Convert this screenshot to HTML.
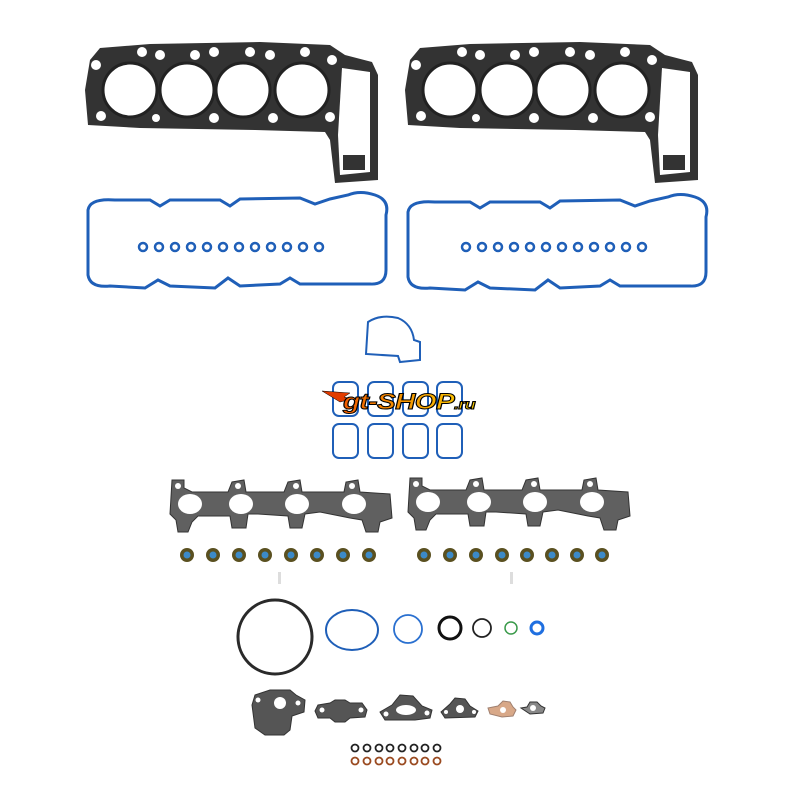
<!DOCTYPE html>
<html><head><meta charset="utf-8"><style>
html,body{margin:0;padding:0;background:#fff;width:800px;height:800px;overflow:hidden}
</style></head><body>
<svg width="800" height="800" viewBox="0 0 800 800" xmlns="http://www.w3.org/2000/svg">
<defs>
<linearGradient id="lg" x1="0" y1="0" x2="1" y2="0"><stop offset="0" stop-color="#f05a00"/><stop offset="0.5" stop-color="#f59a00"/><stop offset="1" stop-color="#ffd000"/></linearGradient>
<g id="head">
  <path d="M90,60 L100,48 L150,44 L260,42 L330,45 L345,55 L372,62 L378,75 L378,180 L335,183 L330,140 L325,132 L255,130 L140,128 L88,125 L85,90 Z" fill="#333"/>
  <path d="M342,68 L370,72 L370,172 L340,175 L338,135 Z" fill="#fff"/>
  <rect x="343" y="155" width="22" height="15" fill="#333"/>
  <g fill="#fff" stroke="#222" stroke-width="3">
    <circle cx="130" cy="90" r="27"/><circle cx="187" cy="90" r="27"/>
    <circle cx="243" cy="90" r="27"/><circle cx="302" cy="90" r="27"/>
  </g>
  <g fill="#fff">
    <circle cx="96" cy="65" r="5"/><circle cx="101" cy="116" r="5"/><circle cx="142" cy="52" r="5"/>
    <circle cx="160" cy="55" r="5"/><circle cx="195" cy="55" r="5"/><circle cx="214" cy="52" r="5"/>
    <circle cx="250" cy="52" r="5"/><circle cx="270" cy="55" r="5"/><circle cx="305" cy="52" r="5"/>
    <circle cx="214" cy="118" r="5"/><circle cx="273" cy="118" r="5"/><circle cx="330" cy="117" r="5"/>
    <circle cx="156" cy="118" r="4"/><circle cx="332" cy="60" r="5"/>
  </g>
</g>
<g id="cover" fill="none" stroke="#1f5fb8" stroke-width="3">
  <path d="M88,210 Q90,198 115,200 L150,200 L160,206 L170,200 L220,200 L230,206 L240,199 L300,198 L315,204 L330,199 L348,195 Q360,190 375,195 Q390,200 386,215 L386,270 Q386,285 370,284 L300,284 L290,278 L280,284 L240,286 L228,278 L215,288 L170,286 L158,280 L145,288 L110,286 Q90,288 88,275 Z"/>
</g>
<g id="exh" fill="#606060" stroke="#333" stroke-width="1">
  <path d="M172,480 L184,480 L184,488 L192,492 L228,492 L232,482 L244,480 L246,492 L284,492 L288,482 L300,480 L302,492 L344,492 L346,482 L358,480 L360,492 L390,494 L392,518 L380,522 L378,532 L366,532 L362,520 L350,518 L320,512 L305,514 L302,528 L290,528 L288,516 L258,514 L248,514 L246,528 L232,528 L230,516 L198,516 L192,522 L188,532 L178,532 L176,520 L170,514 Z"/>
  <g fill="#fff" stroke="none">
    <ellipse cx="190" cy="504" rx="12" ry="10"/><ellipse cx="241" cy="504" rx="12" ry="10"/>
    <ellipse cx="297" cy="504" rx="12" ry="10"/><ellipse cx="354" cy="504" rx="12" ry="10"/>
    <circle cx="178" cy="486" r="3"/><circle cx="238" cy="486" r="3"/><circle cx="296" cy="486" r="3"/><circle cx="352" cy="486" r="3"/>
  </g>
</g>
<g id="seal"><circle r="7" fill="#5a5020"/><circle r="3.5" fill="#3c8ac8"/></g>
</defs>

<use href="#head"/>
<use href="#head" transform="translate(320,0)"/>

<use href="#cover"/>
<use href="#cover" transform="translate(320,2)"/>

<g fill="none" stroke="#1f5fb8" stroke-width="2.5">
  <g id="rl">
    <circle cx="143" cy="247" r="4"/><circle cx="159" cy="247" r="4"/><circle cx="175" cy="247" r="4"/>
    <circle cx="191" cy="247" r="4"/><circle cx="207" cy="247" r="4"/><circle cx="223" cy="247" r="4"/>
    <circle cx="239" cy="247" r="4"/><circle cx="255" cy="247" r="4"/><circle cx="271" cy="247" r="4"/>
    <circle cx="287" cy="247" r="4"/><circle cx="303" cy="247" r="4"/><circle cx="319" cy="247" r="4"/>
  </g>
  <use href="#rl" transform="translate(323,0)"/>
  <path d="M368,322 Q380,314 398,318 Q412,324 414,340 L420,342 L420,360 L400,362 L398,356 L366,354 Z" stroke-width="2"/>
  <g stroke-width="2">
    <rect x="333" y="382" width="25" height="34" rx="6"/><rect x="368" y="382" width="25" height="34" rx="6"/>
    <rect x="403" y="382" width="25" height="34" rx="6"/><rect x="437" y="382" width="25" height="34" rx="6"/>
    <rect x="333" y="424" width="25" height="34" rx="6"/><rect x="368" y="424" width="25" height="34" rx="6"/>
    <rect x="403" y="424" width="25" height="34" rx="6"/><rect x="437" y="424" width="25" height="34" rx="6"/>
  </g>
</g>

<path d="M322,391 L350,393 L344,397 L352,399 L340,402 Z" fill="#e23c00" stroke="#000" stroke-width="0.5"/>
<text x="343" y="409" font-family="Liberation Sans, sans-serif" font-weight="bold" font-style="italic" font-size="22" fill="url(#lg)" stroke="#000" stroke-width="1" letter-spacing="-0.5" textLength="132" lengthAdjust="spacingAndGlyphs">gt-SHOP<tspan font-size="14">.ru</tspan></text>

<use href="#exh"/>
<use href="#exh" transform="translate(238,-2)"/>

<g>
  <use href="#seal" x="187" y="555"/><use href="#seal" x="213" y="555"/><use href="#seal" x="239" y="555"/><use href="#seal" x="265" y="555"/>
  <use href="#seal" x="291" y="555"/><use href="#seal" x="317" y="555"/><use href="#seal" x="343" y="555"/><use href="#seal" x="369" y="555"/>
  <use href="#seal" x="424" y="555"/><use href="#seal" x="450" y="555"/><use href="#seal" x="476" y="555"/><use href="#seal" x="502" y="555"/>
  <use href="#seal" x="527" y="555"/><use href="#seal" x="552" y="555"/><use href="#seal" x="577" y="555"/><use href="#seal" x="602" y="555"/>
</g>
<rect x="278" y="572" width="3" height="12" fill="#ddd"/>
<rect x="510" y="572" width="3" height="12" fill="#ddd"/>

<g fill="none">
  <circle cx="275" cy="637" r="37" stroke="#2a2a2a" stroke-width="3"/>
  <ellipse cx="352" cy="630" rx="26" ry="20" stroke="#1f5fb8" stroke-width="2"/>
  <circle cx="408" cy="629" r="14" stroke="#2a70d0" stroke-width="1.8"/>
  <circle cx="450" cy="628" r="11" stroke="#111" stroke-width="3"/>
  <circle cx="482" cy="628" r="9" stroke="#222" stroke-width="1.8"/>
  <circle cx="511" cy="628" r="6" stroke="#3a9a4a" stroke-width="1.5"/>
  <circle cx="537" cy="628" r="6" stroke="#1f6fe0" stroke-width="3"/>
</g>

<g fill="#555" stroke="#333" stroke-width="1">
  <path d="M255,695 L270,690 L290,690 L296,695 L305,700 L304,712 L292,716 L290,730 L284,735 L265,735 L255,728 L252,705 Z"/>
  <path d="M318,705 L330,703 L335,700 L345,700 L350,703 L362,703 L367,710 L365,717 L350,718 L345,722 L335,722 L330,718 L318,718 L315,711 Z"/>
  <path d="M380,712 L392,705 L400,695 L413,696 L422,706 L432,710 L430,718 L415,720 L400,720 L385,720 Z"/>
  <path d="M441,712 L450,704 L455,698 L465,699 L470,706 L478,711 L475,717 L445,718 Z"/>
  <path d="M488,708 L498,706 L503,701 L510,702 L513,707 L516,710 L513,716 L502,717 L490,714 Z" fill="#d8a888" stroke="#a08070"/>
  <path d="M521,708 L527,707 L530,702 L537,702 L541,706 L545,708 L543,713 L530,714 Z" fill="#888"/>
  <g fill="#fff" stroke="none">
    <circle cx="280" cy="703" r="6"/><circle cx="258" cy="700" r="2.5"/><circle cx="298" cy="703" r="2.5"/>
    <circle cx="322" cy="710" r="2.5"/><circle cx="361" cy="710" r="2.5"/>
    <ellipse cx="406" cy="710" rx="10" ry="5"/><circle cx="386" cy="714" r="2.5"/><circle cx="427" cy="713" r="2.5"/>
    <circle cx="460" cy="709" r="4"/><circle cx="446" cy="712" r="2"/><circle cx="474" cy="712" r="2"/>
    <circle cx="503" cy="710" r="3"/><circle cx="533" cy="708" r="3"/>
  </g>
</g>

<g fill="none" stroke-width="1.8">
  <g stroke="#222">
    <circle cx="355" cy="748" r="3.5"/><circle cx="367" cy="748" r="3.5"/><circle cx="379" cy="748" r="3.5"/><circle cx="390" cy="748" r="3.5"/>
    <circle cx="402" cy="748" r="3.5"/><circle cx="414" cy="748" r="3.5"/><circle cx="425" cy="748" r="3.5"/><circle cx="437" cy="748" r="3.5"/>
  </g>
  <g stroke="#9a4a20">
    <circle cx="355" cy="761" r="3.5"/><circle cx="367" cy="761" r="3.5"/><circle cx="379" cy="761" r="3.5"/><circle cx="390" cy="761" r="3.5"/>
    <circle cx="402" cy="761" r="3.5"/><circle cx="414" cy="761" r="3.5"/><circle cx="425" cy="761" r="3.5"/><circle cx="437" cy="761" r="3.5"/>
  </g>
</g>
</svg>
</body></html>
